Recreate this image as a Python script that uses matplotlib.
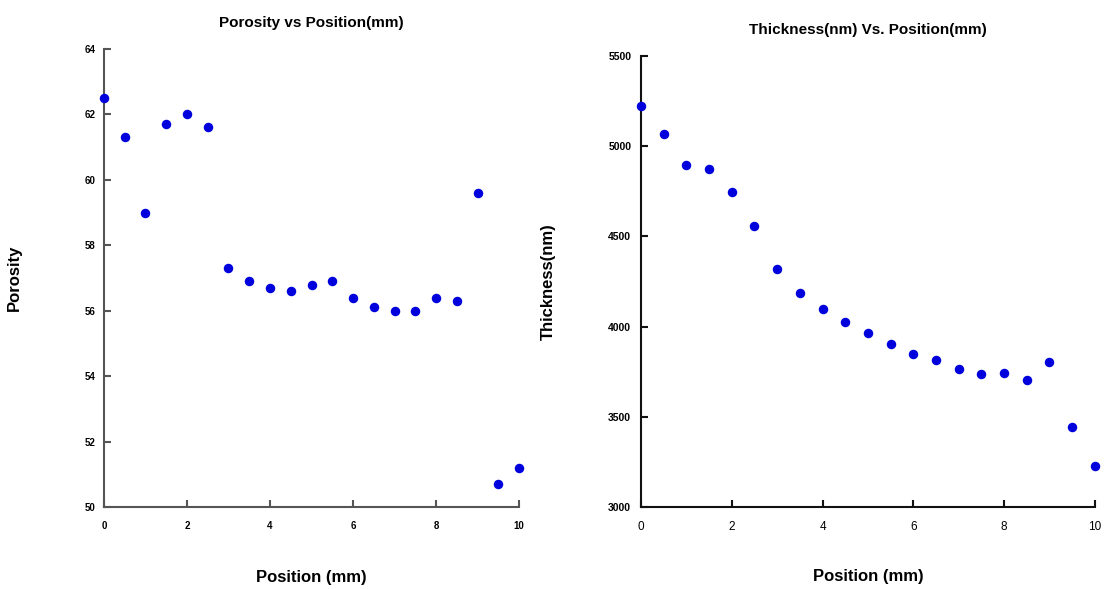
import matplotlib
matplotlib.use("Agg")
import matplotlib.pyplot as plt

plt.rcParams['font.family'] = ['Liberation Sans', 'DejaVu Sans']

position = [0, 0.5, 1, 1.5, 2, 2.5, 3, 3.5, 4, 4.5, 5, 5.5, 6, 6.5, 7, 7.5, 8, 8.5, 9, 9.5, 10]
porosity = [62.5, 61.3, 59.0, 61.7, 62.0, 61.6, 57.3, 56.9, 56.7, 56.6, 56.8, 56.9,
            56.4, 56.1, 56.0, 56.0, 56.4, 56.3, 59.6, 50.7, 51.2]
thickness = [5220, 5065, 4895, 4875, 4745, 4560, 4320, 4185, 4100, 4025, 3965, 3905,
             3850, 3815, 3765, 3740, 3743, 3705, 3805, 3445, 3230]

x_ticks = [0, 2, 4, 6, 8, 10]
porosity_ticks = [50, 52, 54, 56, 58, 60, 62, 64]
thickness_ticks = [3000, 3500, 4000, 4500, 5000, 5500]

marker_color = '#0000dd'

fig = plt.figure(figsize=(11.07, 5.89), dpi=100)
ax1 = fig.add_axes([0.0939, 0.139, 0.375, 0.778])
ax2 = fig.add_axes([0.579, 0.139, 0.410, 0.766])


def style_axes(ax, spine_color, xbold, ypad):
    for side in ('top', 'right'):
        ax.spines[side].set_visible(False)
    for side in ('left', 'bottom'):
        ax.spines[side].set_color(spine_color)
        ax.spines[side].set_linewidth(1.5)
    ax.tick_params(axis='both', direction='in', length=5, width=1.5,
                   color=spine_color, labelsize=7)
    ax.tick_params(axis='y', pad=ypad)
    ax.tick_params(axis='x', pad=10)
    for lab in ax.get_yticklabels():
        lab.set_fontweight('bold')
    for lab in ax.get_xticklabels():
        lab.set_fontweight('bold' if xbold else 'normal')


ax1.scatter(position, porosity, s=34, color=marker_color, zorder=3, clip_on=False)
ax1.set_xlim(0, 10)
ax1.set_ylim(50, 64)
ax1.set_xticks(x_ticks)
ax1.set_yticks(porosity_ticks)
style_axes(ax1, '#555555', True, 6)
ax1.set_title('Porosity vs Position(mm)', fontsize=11, fontweight='bold', pad=16)
ax1.set_xlabel('Position (mm)', fontsize=12, fontweight='bold', labelpad=28)
ax1.set_ylabel('Porosity', fontsize=12, fontweight='bold', labelpad=45)

ax2.scatter(position, thickness, s=34, color=marker_color, zorder=3, clip_on=False)
ax2.set_xlim(0, 10)
ax2.set_ylim(3000, 5500)
ax2.set_xticks(x_ticks)
ax2.set_yticks(thickness_ticks)
style_axes(ax2, '#111111', False, 7)
ax2.tick_params(axis='y', labelsize=7.5)
ax2.tick_params(axis='x', labelsize=8.5)
ax2.set_title('Thickness(nm) Vs. Position(mm)', fontsize=11, fontweight='bold', pad=16)
ax2.set_xlabel('Position (mm)', fontsize=12, fontweight='bold', labelpad=26)
ax2.set_ylabel('Thickness(nm)', fontsize=12, fontweight='bold', labelpad=38)

fig.savefig('out.png', dpi=100, facecolor='white')
